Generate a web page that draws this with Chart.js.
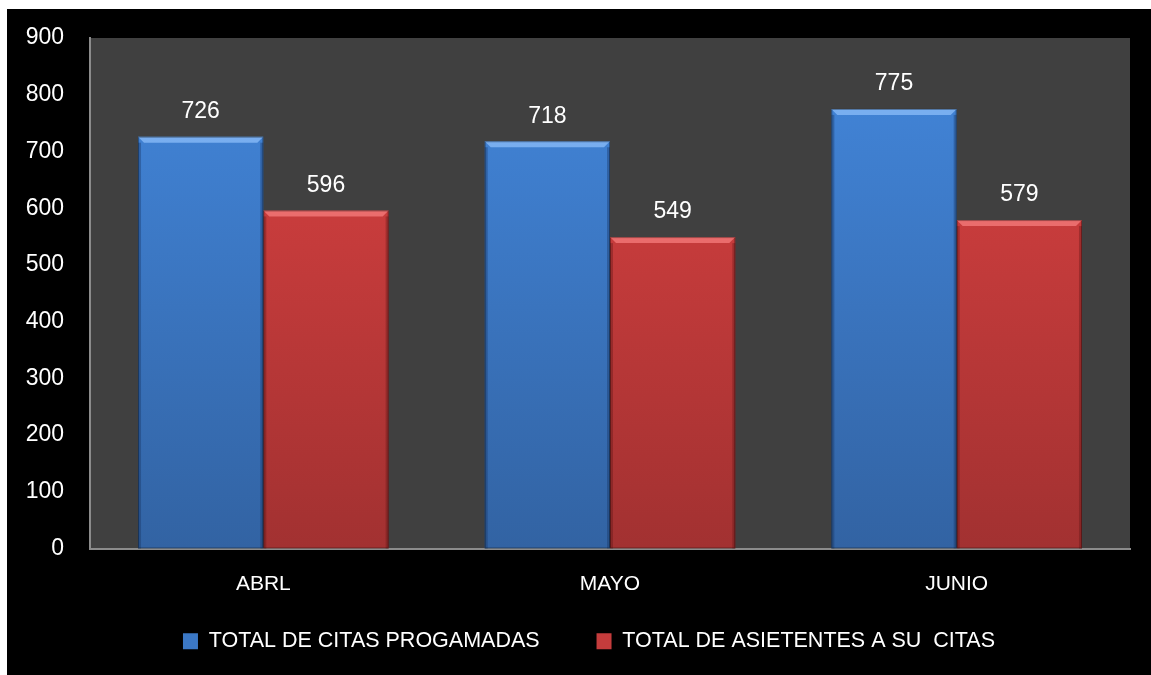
<!DOCTYPE html>
<html lang="es">
<head>
<meta charset="UTF-8">
<title>Citas programadas y asistentes</title>
<script src="https://cdn.jsdelivr.net/npm/chart.js@4.4.0/dist/chart.umd.min.js"></script>
<style>
    html, body { margin: 0; padding: 0; background: #ffffff; }
    #chart-box {
        position: absolute;
        left: 7px;
        top: 9px;
        width: 1144px;
        height: 666px;
        background: #000000;
    }
</style>
</head>
<body>
<div id="chart-box"><canvas id="citas-chart"></canvas></div>
<script>
// Datos
const meses = ["ABRL", "MAYO", "JUNIO"];
const citasProgramadas = [726, 718, 775];
const asistentes = [596, 549, 579];
const serieNombres = ["TOTAL DE CITAS PROGAMADAS", "TOTAL DE ASIETENTES A SU  CITAS"];
const ejeYMin = 0;
const ejeYMax = 900;
const ejeYPaso = 100;

const FUENTE = "'Liberation Sans', Arial, sans-serif";

// degradado vertical para cada barra
function degradado(context, arriba, abajo) {
    const area = context.chart.chartArea;
    if (!area) return arriba;
    const g = context.chart.ctx.createLinearGradient(0, area.top, 0, area.bottom);
    g.addColorStop(0, arriba);
    g.addColorStop(1, abajo);
    return g;
}

// fondo gris del área de trazado
const fondoPlot = {
    id: "fondoPlot",
    beforeDraw(chart) {
        const { ctx, chartArea } = chart;
        ctx.save();
        ctx.fillStyle = "#404040";
        ctx.fillRect(chartArea.left, chartArea.top, chartArea.right - chartArea.left, chartArea.bottom - chartArea.top);
        ctx.restore();
    }
};

// la leyenda del original queda un poco más a la derecha
const ajusteLeyenda = {
    id: "ajusteLeyenda",
    afterLayout(chart) {
        if (chart.legend) {
            chart.legend.left += 12;
            chart.legend.right += 12;
        }
    }
};

// biseles de las barras y etiquetas de valor
const biselYValores = {
    id: "biselYValores",
    afterDatasetsDraw(chart) {
        const ctx = chart.ctx;
        const claros = ["rgba(140, 190, 250, 0.75)", "rgba(250, 130, 130, 0.7)"];
        const oscuros = ["rgba(20, 45, 90, 0.35)", "rgba(90, 20, 20, 0.35)"];
        ctx.save();
        chart.data.datasets.forEach((ds, i) => {
            const meta = chart.getDatasetMeta(i);
            meta.data.forEach((bar, j) => {
                const izq = bar.x - bar.width / 2;
                const der = bar.x + bar.width / 2;
                const b = 6;
                // bisel superior
                ctx.fillStyle = claros[i];
                ctx.beginPath();
                ctx.moveTo(izq, bar.y);
                ctx.lineTo(der, bar.y);
                ctx.lineTo(der - b, bar.y + b);
                ctx.lineTo(izq + b, bar.y + b);
                ctx.closePath();
                ctx.fill();
                // lados más oscuros
                ctx.fillStyle = oscuros[i];
                ctx.fillRect(izq, bar.y + b, 3, bar.base - bar.y - b);
                ctx.fillRect(der - 3, bar.y + b, 3, bar.base - bar.y - b);
                // contorno fino
                ctx.strokeStyle = "rgba(0, 0, 0, 0.35)";
                ctx.lineWidth = 1;
                ctx.strokeRect(izq + 0.5, bar.y + 0.5, bar.width - 1, bar.base - bar.y - 1);
                // valor encima de la barra
                ctx.fillStyle = "#ffffff";
                ctx.font = "23px " + FUENTE;
                ctx.textAlign = "center";
                ctx.textBaseline = "middle";
                ctx.fillText(ds.data[j], bar.x, bar.y - 25);
            });
        });
        ctx.restore();
    }
};

const ctx = document.getElementById("citas-chart").getContext("2d");

new Chart(ctx, {
    type: "bar",
    data: {
        labels: meses,
        datasets: [
            {
                label: serieNombres[0],
                data: citasProgramadas,
                backgroundColor: (c) => degradado(c, "#4387dc", "#3263a3"),
                borderWidth: 0,
                categoryPercentage: 0.723,
                barPercentage: 1.0
            },
            {
                label: serieNombres[1],
                data: asistentes,
                backgroundColor: (c) => degradado(c, "#dc4242", "#a23131"),
                borderWidth: 0,
                categoryPercentage: 0.723,
                barPercentage: 1.0
            }
        ]
    },
    options: {
        responsive: true,
        maintainAspectRatio: false,
        animation: false,
        layout: {
            padding: { left: 17, right: 21, top: 29, bottom: 13 }
        },
        plugins: {
            tooltip: { enabled: false },
            legend: {
                display: true,
                position: "bottom",
                labels: {
                    color: "#ffffff",
                    boxWidth: 15,
                    boxHeight: 16,
                    padding: 33,
                    font: { family: FUENTE, size: 21.5 },
                    generateLabels: function (chart) {
                        const colores = ["#3b78c6", "#c43c3c"];
                        return chart.data.datasets.map((ds, i) => ({
                            // espacios al final para separar más los dos elementos
                            text: i === 0 ? ds.label + "    " : ds.label,
                            fillStyle: colores[i],
                            strokeStyle: colores[i],
                            lineWidth: 0,
                            fontColor: "#ffffff",
                            hidden: false,
                            datasetIndex: i
                        }));
                    }
                }
            }
        },
        scales: {
            x: {
                grid: { display: false, drawTicks: false },
                border: { display: true, color: "#8c8c8c", width: 2 },
                ticks: {
                    color: "#ffffff",
                    padding: 23,
                    font: { family: FUENTE, size: 21 }
                },
                afterFit: function (scale) {
                    scale.height = 49;
                }
            },
            y: {
                min: ejeYMin,
                max: ejeYMax,
                grid: { display: false, drawTicks: false },
                border: { display: true, color: "#8c8c8c", width: 2 },
                ticks: {
                    stepSize: ejeYPaso,
                    color: "#ffffff",
                    padding: 26,
                    font: { family: FUENTE, size: 23 }
                },
                afterFit: function (scale) {
                    scale.width = 66;
                    scale.paddingTop = 0;
                    scale.paddingBottom = 0;
                }
            }
        }
    },
    plugins: [fondoPlot, ajusteLeyenda, biselYValores]
});
</script>
</body>
</html>
